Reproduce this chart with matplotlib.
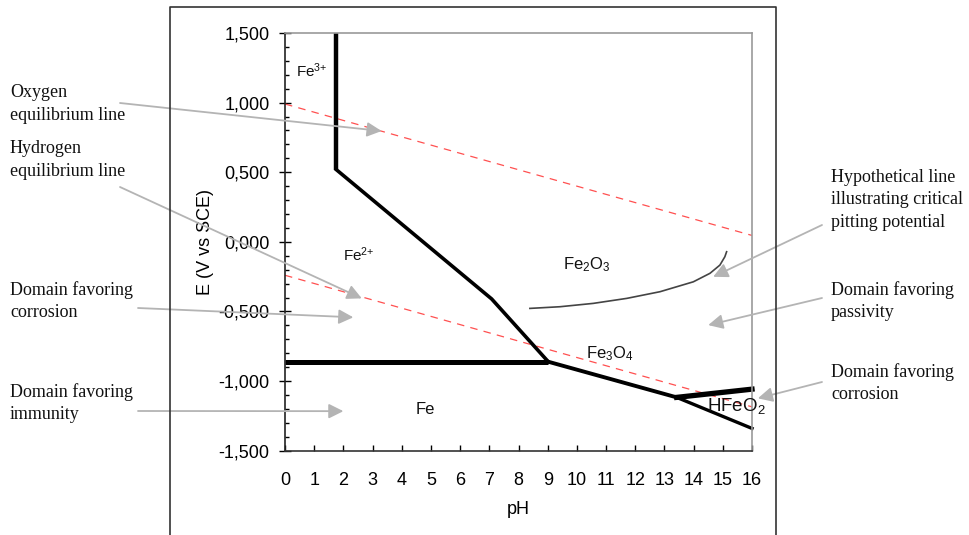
import numpy as np
import matplotlib
matplotlib.use("Agg")
import matplotlib.pyplot as plt
from matplotlib.lines import Line2D
from matplotlib.ticker import MultipleLocator, FuncFormatter

plt.rcParams['font.family'] = ['Liberation Sans', 'DejaVu Sans']
plt.rcParams['mathtext.default'] = 'regular'

W, H = 970, 535

# boundaries of the Pourbaix diagram (pH, E in V vs SCE)
fe3_fe2_ph = [1.75, 1.75]
fe3_fe2_e = [1.5, 0.52]
fe2_oxide_ph = [1.75, 7.08, 9.02]
fe2_oxide_e = [0.52, -0.41, -0.861]
fe_fe2_ph = [0.0, 9.02]
fe_fe2_e = [-0.861, -0.861]
fe_fe3o4_ph = [9.02, 13.42]
fe_fe3o4_e = [-0.861, -1.117]
fe_hfeo2_ph = [13.42, 16.0]
fe_hfeo2_e = [-1.117, -1.340]
fe3o4_hfeo2_ph = [13.42, 16.0]
fe3o4_hfeo2_e = [-1.117, -1.058]

# water stability lines
oxygen_ph = [0.0, 16.0]
oxygen_e = [0.99, 0.046]
hydrogen_ph = [0.0, 16.0]
hydrogen_e = [-0.24, -1.185]

# hypothetical critical pitting potential
pit_ph = [8.39, 9.42, 10.56, 11.71, 12.85, 13.99, 14.56, 14.90, 15.07, 15.13]
pit_e = [-0.478, -0.466, -0.442, -0.406, -0.358, -0.287, -0.226, -0.167, -0.107, -0.071]

# species labels
species = ['Fe$^{3{+}}$', 'Fe$^{2{+}}$', 'Fe$_2$O$_3$', 'Fe$_3$O$_4$', 'Fe', 'HFeO$_2$']
species_ph = [0.38, 2.0, 10.33, 11.13, 4.82, 15.47]
species_e = [1.23, -0.09, -0.167, -0.806, -1.203, -1.177]
species_ha = ['left', 'left', 'center', 'center', 'center', 'center']
species_size = [11, 11, 12, 12, 12, 13.5]

# side notes: text, text anchor (px), arrow start (px), arrow tip (pH, E)
notes = [
    ("Oxygen\nequilibrium line", (10, 104), (120, 103), (3.31, 0.796)),
    ("Hydrogen\nequilibrium line", (10, 160), (120, 187), (2.63, -0.406)),
    ("Domain favoring\ncorrosion", (10, 301), (138, 308), (2.34, -0.542)),
    ("Domain favoring\nimmunity", (10, 403), (138, 411), (2.0, -1.216)),
    ("Hypothetical line\nillustrating critical\npitting potential", (831, 200), (822, 225), (14.67, -0.251)),
    ("Domain favoring\npassivity", (831, 301), (822, 298), (14.5, -0.598)),
    ("Domain favoring\ncorrosion", (831, 383), (822, 382), (16.2, -1.124)),
]

fig = plt.figure(figsize=(W / 100, H / 100), dpi=100)
ax = fig.add_axes([285 / W, 1 - 450.7 / H, (752 - 285) / W, (450.7 - 33) / H])

ax.plot(oxygen_ph, oxygen_e, color='#ff5050', lw=0.9, dashes=(6, 5))
ax.plot(hydrogen_ph, hydrogen_e, color='#ff5050', lw=0.9, dashes=(6, 5))

ax.plot(fe3_fe2_ph, fe3_fe2_e, color='black', lw=3.2, clip_on=False, solid_capstyle='butt')
ax.plot(fe2_oxide_ph, fe2_oxide_e, color='black', lw=2.6, clip_on=False)
ax.plot(fe_fe2_ph, fe_fe2_e, color='black', lw=3.6, clip_on=False, solid_capstyle='butt')
ax.plot(fe_fe3o4_ph, fe_fe3o4_e, color='black', lw=2.8, clip_on=False)
ax.plot(fe_hfeo2_ph, fe_hfeo2_e, color='black', lw=2.4, clip_on=False)
ax.plot(fe3o4_hfeo2_ph, fe3o4_hfeo2_e, color='black', lw=3.8, clip_on=False)

ax.plot(pit_ph, pit_e, color='#444444', lw=1.2)

for lab, x, y, ha, fs in zip(species, species_ph, species_e, species_ha, species_size):
    ax.text(x, y, lab, ha=ha, va='center', fontsize=fs, color='#111111')

for txt, (tx, ty), (sx, sy), tip in notes:
    fig.text(tx / W, 1 - ty / H, txt, ha='left', va='center', fontsize=13,
             family=['Liberation Serif', 'DejaVu Serif'], linespacing=1.4, color='#111111')
    ax.annotate('', xy=tip, xycoords='data', xytext=(sx / W, 1 - sy / H),
                textcoords='figure fraction', annotation_clip=False,
                arrowprops=dict(arrowstyle='-|>', color='#b4b4b4', lw=1.3,
                                mutation_scale=22, shrinkA=0, shrinkB=0))

ax.set_xlim(0, 16)
ax.set_ylim(-1.5, 1.5)
ax.set_xticks(range(0, 17))
ax.yaxis.set_major_locator(MultipleLocator(0.5))
ax.yaxis.set_minor_locator(MultipleLocator(0.1))
ax.yaxis.set_major_formatter(FuncFormatter(lambda v, p: f"{v:.3f}".replace('.', ',') if abs(v) > 1e-9 else "0,000"))
ax.tick_params(axis='x', direction='in', length=4.5, width=1, pad=15, labelsize=13)
ax.tick_params(axis='y', which='major', direction='inout', length=8, width=1, pad=7, labelsize=13)
ax.tick_params(axis='y', which='minor', direction='in', length=3, width=1)

for s in ['top', 'right']:
    ax.spines[s].set_color('#999999')
    ax.spines[s].set_linewidth(1.2)
ax.spines['left'].set_color('#222222')
ax.spines['bottom'].set_color('#333333')
ax.spines['left'].set_linewidth(1.2)
ax.spines['bottom'].set_linewidth(1.2)

ax.set_xlabel('pH', fontsize=13, labelpad=9)
ax.set_ylabel('E (V vs SCE)', fontsize=13, labelpad=3)

# outer frame (open at the bottom)
fx = [170 / W, 170 / W, 776 / W, 776 / W]
fy = [0, 1 - 6.7 / H, 1 - 6.7 / H, 0]
fig.add_artist(Line2D(fx, fy, transform=fig.transFigure, color='#333333', lw=1.2))

fig.savefig('out.png', dpi=100)
